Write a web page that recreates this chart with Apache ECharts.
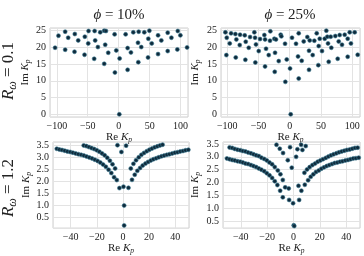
<!DOCTYPE html>
<html><head><meta charset="utf-8">
<script src="https://cdn.jsdelivr.net/npm/echarts@6/dist/echarts.min.js"></script>
<style>html,body{margin:0;padding:0;background:#fff}#c{width:364px;height:256px}</style>
</head><body><div id="c"></div>
<script>
const colTitles = ['10%', '25%'];
const rowLabels = ['0.1', '1.2'];

const phi10_R01 = [[-102.8,19.9],[-97.3,23.5],[-86.5,24.7],[-86.5,19.3],[-81.6,22.9],[-70.9,24.0],[-71.4,18.7],[-65.4,22.1],[-54.7,23.2],[-55.2,17.8],[-48.7,24.9],[-49.2,21.2],[-38.9,24.9],[-38.0,22.1],[-39.6,16.6],[-33.6,20.1],[-29.8,24.5],[-23.4,25.0],[-20.6,24.9],[-21.8,20.8],[-16.9,18.4],[-23.4,15.1],[-6.6,23.9],[-3.9,19.1],[-6.1,12.5],[1.5,16.7],[1.0,0.0],[11.2,23.9],[14.4,19.8],[14.4,13.3],[19.8,18.5],[23.6,24.5],[32.3,24.7],[31.2,21.4],[31.7,15.6],[36.5,20.1],[41.4,24.5],[47.9,22.6],[47.4,17.0],[49.6,25.0],[53.4,21.2],[63.6,23.6],[63.6,18.0],[68.9,22.1],[79.2,24.4],[79.2,18.9],[85.2,22.9],[95.5,24.9],[94.8,19.4],[99.7,23.6],[110.5,20.0]];

const phi25_R01 = [[-103,24.5],[-100.8,22.9],[-101.4,17.7],[-96,21.2],[-93.9,24.2],[-87,24.0],[-85.4,22.4],[-86.4,17.0],[-79.5,23.8],[-80,20.7],[-72,23.6],[-70.4,21.7],[-71,16.3],[-65.6,19.9],[-63.5,23.1],[-56.6,24.5],[-55.5,22.9],[-54,20.9],[-55,15.5],[-49.6,18.9],[-47.5,22.5],[-40.6,23.7],[-39.5,22.4],[-37.9,19.6],[-39.5,14.3],[-33.6,17.7],[-31.6,22.0],[-31,24.8],[-24.6,22.6],[-23.5,18.4],[-22,22.4],[-24,12.7],[-17.6,15.9],[-14.5,23.8],[-13.4,23.3],[-7.5,21.1],[-7,9.7],[-4.8,16.4],[0.5,13.7],[3.7,22.9],[1.6,0.0],[10.1,21.1],[14.4,24.2],[13.3,17.3],[14.4,10.7],[19.2,16.0],[22.4,21.8],[28.2,23.1],[32,22.1],[30.9,19.0],[30.9,13.3],[36.8,17.7],[39.4,22.0],[43.2,24.2],[46.4,20.4],[48,22.6],[45.8,14.7],[51.7,18.9],[56,22.6],[58.6,25.0],[60.2,23.2],[61.3,21.2],[62.4,15.7],[66.6,19.9],[65.6,23.2],[73,23.4],[78.4,21.8],[76.8,16.6],[80,23.7],[83.7,20.8],[88,23.8],[92.8,22.6],[92.8,17.2],[96,24.5],[98,21.2],[104,24.5],[108.8,17.8]];

const phi10_R12 = [
 [-50.6,3.34],[-48.6,3.31],[-46.6,3.29],[-44.5,3.26],[-42.5,3.23],[-40.4,3.21],[-38.3,3.18],[-36.2,3.15],[-34.1,3.12],[-32.0,3.09],[-29.9,3.06],[-27.8,3.02],[-25.7,2.98],[-23.6,2.94],[-21.5,2.89],[-19.4,2.84],[-17.3,2.77],[-15.2,2.69],[-13.1,2.60],[-11.0,2.48],[-8.9,2.34],[-6.8,2.17],[-4.7,2.05],
 [-30.0,3.48],[-28.0,3.45],[-26.0,3.41],[-24.0,3.37],[-22.0,3.33],[-20.0,3.28],[-18.0,3.22],[-16.0,3.15],[-14.0,3.07],[-12.0,2.97],[-10.0,2.85],[-8.0,2.70],[-6.0,2.53],
 [-4.2,3.49],[2.4,3.47],[-1.2,3.21],[-2.7,1.72],[0.4,1.78],[4.2,1.73],[0.9,1.0],[0.9,0.18],
 [6.9,2.06],[9.0,2.27],[11.0,2.43],[13.1,2.55],[15.1,2.65],[17.2,2.73],[19.2,2.80],[21.3,2.86],[23.3,2.91],[25.4,2.95],[27.4,2.99],[29.5,3.03],[31.5,3.06],[33.6,3.09],[35.6,3.12],[37.7,3.15],[39.7,3.18],[41.8,3.20],[43.8,3.23],[45.9,3.25],[47.9,3.28],[50.0,3.30],
 [6.0,2.53],[8.0,2.72],[10.0,2.87],[12.1,2.99],[14.1,3.09],[16.1,3.17],[18.2,3.24],[20.2,3.30],[22.2,3.35],[24.3,3.40],[26.3,3.44],[28.3,3.48],[30.3,3.51]
];

const phi25_R12 = [
 [-48.5,3.37],[-46.5,3.35],[-44.5,3.31],[-42.4,3.28],[-40.4,3.26],[-38.4,3.23],[-36.4,3.21],[-34.4,3.17],[-32.3,3.14],[-30.3,3.10],[-28.3,3.06],[-26.3,3.03],[-24.3,2.97],[-22.2,2.92],[-20.2,2.86],[-18.2,2.78],[-16.2,2.71],[-14.2,2.60],[-11.9,2.47],[-9.9,2.32],[-8.1,2.10],[-6.3,1.81],
 [-50.5,2.94],[-48.5,2.91],[-46.5,2.88],[-44.5,2.86],[-42.4,2.83],[-40.4,2.81],[-38.4,2.78],[-36.4,2.74],[-34.4,2.72],[-32.3,2.68],[-30.3,2.64],[-28.3,2.60],[-26.3,2.55],[-24.3,2.50],[-22.2,2.44],[-20.2,2.36],[-18.2,2.28],[-16.2,2.18],[-14.2,2.05],[-12.2,1.90],[-10.1,1.68],[-8.1,1.42],
 [-12.9,3.47],[-10.4,3.32],[-7.9,3.15],[-4.3,2.87],[-2.6,3.38],[-1.3,2.58],[2.0,3.0],[3.0,3.3],[5.8,3.47],[6.8,3.27],[9.3,3.42],[-3.6,1.77],[-3.3,1.32],[-0.3,1.19],[0.2,0.33],[0.6,0.30],[4.3,1.32],[3.8,1.87],
 [8.3,2.38],[10.3,2.51],[12.3,2.60],[14.4,2.68],[16.4,2.74],[18.4,2.81],[20.4,2.86],[22.4,2.91],[24.5,2.96],[26.5,3.01],[28.5,3.06],[30.5,3.10],[32.6,3.14],[34.6,3.18],[36.6,3.21],[38.6,3.24],[40.6,3.27],[42.7,3.29],[44.7,3.32],[46.7,3.35],[48.7,3.36],
 [6.0,1.68],[8.6,1.91],[11.1,2.09],[13.1,2.22],[15.1,2.32],[17.1,2.41],[19.2,2.47],[21.2,2.54],[23.2,2.59],[25.2,2.64],[27.2,2.68],[29.3,2.72],[31.3,2.76],[33.3,2.78],[35.3,2.81],[37.3,2.83],[39.4,2.86],[41.4,2.88],[43.4,2.91],[45.4,2.94],[47.4,2.95],[49.5,2.97]
];

const panels = [phi10_R01, phi25_R01, phi10_R12, phi25_R12];
const FONT = 'Liberation Serif';
const TXT = '#222';
const grids = [
  {left:50, top:28, width:138, height:89},
  {left:221, top:28, width:139, height:89},
  {left:53, top:142, width:136, height:88},
  {left:223, top:142, width:137, height:87}
];
const xr = [[-111,112,50],[-110,112.5,50],[-53.5,50.5,20],[-53.5,50.5,20]];
const yr = [[-0.8,25.8,5],[-0.8,25.8,5],[0.07,3.62,0.5],[0.22,3.58,0.5]];
const yGap = [15,19,20,21];
const rich = {
  i:{fontFamily:FONT,fontStyle:'italic',fontSize:11,color:TXT},
  s:{fontFamily:FONT,fontStyle:'italic',fontSize:7.5,color:TXT,verticalAlign:'bottom',padding:[5,0,0,0]}
};
const fmtX = v => (v<0?'\u2212'+Math.abs(v):String(v));
const chart = echarts.init(document.getElementById('c'));
const option = {
  animation:false,
  backgroundColor:'#fff',
  grid: grids.map(g=>Object.assign({show:true,borderColor:'#cfcfcf',borderWidth:1,backgroundColor:'transparent'},g)),
  xAxis: grids.map((g,i)=>({
    type:'value', gridIndex:i, min:xr[i][0], max:xr[i][1], minInterval:xr[i][2], maxInterval:xr[i][2],
    axisLine:{show:false}, axisTick:{show:false},
    splitLine:{show:true,lineStyle:{color:'#e3e3e3',width:1}},
    axisLabel:{fontFamily:FONT,fontSize:10,color:TXT,margin:4,showMinLabel:false,showMaxLabel:false,formatter:fmtX},
    name:'Re {i|K}{s|p}', nameLocation:'middle', nameGap:13,
    nameTextStyle:{fontFamily:FONT,fontSize:11,color:TXT,rich:rich}
  })),
  yAxis: grids.map((g,i)=>({
    type:'value', gridIndex:i, min:yr[i][0], max:yr[i][1], minInterval:yr[i][2], maxInterval:yr[i][2],
    axisLine:{show:false}, axisTick:{show:false},
    splitLine:{show:true,lineStyle:{color:'#e3e3e3',width:1}},
    axisLabel:{fontFamily:FONT,fontSize:10,color:TXT,margin:4,showMinLabel:false,showMaxLabel:false,
      formatter: v => (i<2 ? fmtX(v) : v.toFixed(1))},
    name:'Im {i|K}{s|p}', nameLocation:'middle', nameGap:yGap[i],
    nameTextStyle:{fontFamily:FONT,fontSize:11,color:TXT,rich:rich}
  })),
  series: panels.map((d,i)=>({
    type:'scatter', xAxisIndex:i, yAxisIndex:i, data:d, symbolSize:4,
    itemStyle:{color:'#0f2a3b',borderColor:'#3a7b92',borderWidth:0.6,opacity:1}
  })),
  graphic: [
    {type:'text', x:119, y:15, style:{text:'{i|\u03d5} = '+colTitles[0], font:'15px '+FONT, fill:TXT, align:'center', verticalAlign:'middle',
      rich:{i:{fontFamily:FONT,fontStyle:'italic',fontSize:15,fill:TXT}}}},
    {type:'text', x:290, y:15, style:{text:'{i|\u03d5} = '+colTitles[1], font:'15px '+FONT, fill:TXT, align:'center', verticalAlign:'middle',
      rich:{i:{fontFamily:FONT,fontStyle:'italic',fontSize:15,fill:TXT}}}},
    {type:'text', x:9, y:71, rotation:Math.PI/2, style:{text:'{i|R}{s|\u03c9} = '+rowLabels[0], font:'17px '+FONT, fill:TXT, align:'center', verticalAlign:'middle',
      rich:{i:{fontFamily:FONT,fontStyle:'italic',fontSize:17,fill:TXT},s:{fontFamily:FONT,fontStyle:'italic',fontSize:12,fill:TXT,verticalAlign:'bottom',padding:[7,0,0,0]}}}},
    {type:'text', x:9, y:188, rotation:Math.PI/2, style:{text:'{i|R}{s|\u03c9} = '+rowLabels[1], font:'17px '+FONT, fill:TXT, align:'center', verticalAlign:'middle',
      rich:{i:{fontFamily:FONT,fontStyle:'italic',fontSize:17,fill:TXT},s:{fontFamily:FONT,fontStyle:'italic',fontSize:12,fill:TXT,verticalAlign:'bottom',padding:[7,0,0,0]}}}}
  ]
};
chart.setOption(option);
</script></body></html>
